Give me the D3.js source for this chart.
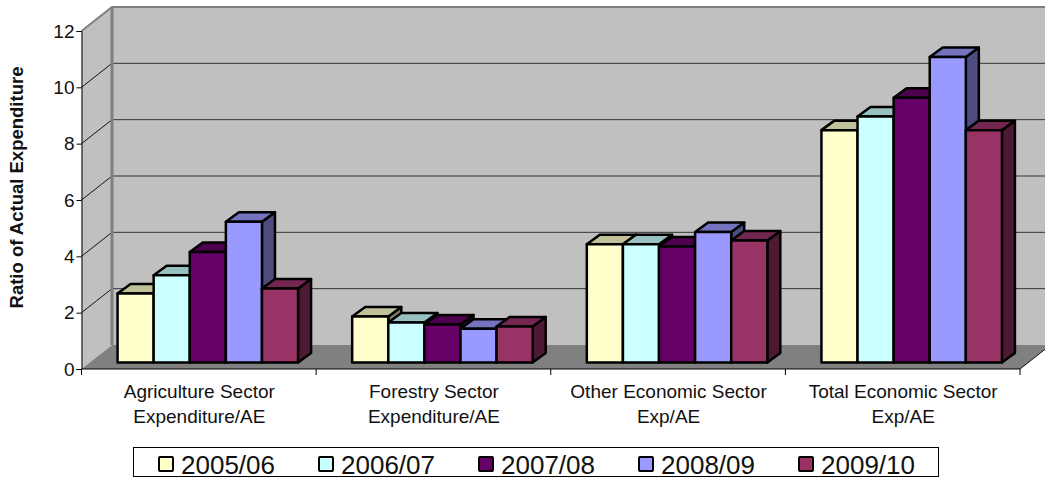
<!DOCTYPE html>
<html><head><meta charset="utf-8">
<script src="https://cdn.jsdelivr.net/npm/d3@7"></script>
<style>html,body{margin:0;padding:0;background:#fff;overflow:hidden}svg{display:block}text{font-family:"Liberation Sans",Arial,sans-serif;fill:#111}</style>
</head><body><svg id="c" width="1045" height="479"></svg>
<script>
const categories=[["Agriculture Sector","Expenditure/AE"],["Forestry Sector","Expenditure/AE"],["Other Economic Sector","Exp/AE"],["Total Economic Sector","Exp/AE"]];
const years=["2005/06","2006/07","2007/08","2008/09","2009/10"];
const colors=["#FFFFCC","#CCFFFF","#660066","#9999FF","#993366"];
const topColors=["#C0C099","#99C0C0","#4D004D","#7373BF","#732650"];
const sideColors=["#80806A","#668080","#330033","#4D4D80","#4D1A33"];
const v2005=[2.45,1.63,4.2,8.25];
const v2006=[3.1,1.42,4.2,8.73];
const v2007=[3.92,1.35,4.12,9.4];
const v2008=[5.0,1.2,4.63,10.85];
const v2009=[2.63,1.28,4.33,8.25];
const series=[v2005,v2006,v2007,v2008,v2009];
const yTicks=[0,2,4,6,8,10,12];

const svg=d3.select("#c");
const L=81.5,R=1020,Y0=369,Y12=31,DX=30.5,DY=-24;
const y=d3.scaleLinear().domain([0,12]).range([Y0,Y12]);
const x0=d3.scaleBand().domain(d3.range(4)).range([L,R]);
const barW=36.1,groupPad=(x0.bandwidth()-barW*5)/2;
const x1=d3.scaleBand().domain(d3.range(5)).range([0,barW*5]);
const bdx=9,bdy=-6.5,sdx=13,sdy=-9.5;
const poly=p=>p.map(a=>a.join(",")).join(" ");

// walls and floor
svg.append("polygon").attr("points",poly([[L+DX,y(12)+DY],[R+DX,y(12)+DY],[R+DX,y(0)+DY],[L+DX,y(0)+DY]])).attr("fill","#C0C0C0");
svg.append("polygon").attr("points",poly([[L,y(12)],[L+DX,y(12)+DY],[L+DX,y(0)+DY],[L,y(0)]])).attr("fill","#C0C0C0");
svg.append("polygon").attr("points",poly([[L,y(0)],[L+DX,y(0)+DY],[R+DX,y(0)+DY],[R,y(0)]])).attr("fill","#808080");
// grid
yTicks.filter(t=>t>0&&t<12).forEach(t=>{
  svg.append("line").attr("x1",L+DX).attr("x2",R+DX).attr("y1",y(t)+DY).attr("y2",y(t)+DY).attr("stroke","#333").attr("stroke-width",1);
  svg.append("line").attr("x1",L).attr("x2",L+DX).attr("y1",y(t)).attr("y2",y(t)+DY).attr("stroke","#111").attr("stroke-width",1);
});
svg.append("path").attr("d",`M${L},${y(12)}L${L+DX},${y(12)+DY}H${R+DX}`).attr("fill","none").attr("stroke","#808080").attr("stroke-width",2);
svg.append("line").attr("x1",L+DX).attr("x2",L+DX).attr("y1",y(12)+DY).attr("y2",y(0)+DY).attr("stroke","#808080").attr("stroke-width",3);
svg.append("line").attr("x1",R).attr("x2",R+DX).attr("y1",y(0)).attr("y2",y(0)+DY).attr("stroke","#111").attr("stroke-width",1);

// bars
const g=svg.append("g").attr("stroke","#000").attr("stroke-width",2.5).attr("stroke-linejoin","round");
categories.forEach((c,ci)=>{
  series.forEach((s,si)=>{
    const xa=x0(ci)+groupPad+x1(si)+bdx, xb=xa+barW;
    const yb=y(0)+bdy, yt=y(s[ci])+bdy;
    g.append("polygon").attr("points",poly([[xb,yb],[xb+sdx,yb+sdy],[xb+sdx,yt+sdy],[xb,yt]])).attr("fill",sideColors[si]);
    g.append("polygon").attr("points",poly([[xa,yt],[xa+sdx,yt+sdy],[xb+sdx,yt+sdy],[xb,yt]])).attr("fill",topColors[si]);
    g.append("rect").attr("x",xa).attr("y",yt).attr("width",barW).attr("height",yb-yt).attr("fill",colors[si]);
  });
});

// axes
const yAxis=d3.axisLeft(y).tickValues(yTicks).tickSize(5).tickPadding(2);
const ya=svg.append("g").attr("transform",`translate(${L},0)`).call(yAxis);
ya.selectAll("text").attr("font-size",19);
ya.selectAll("path,line").attr("stroke","#000");
svg.append("line").attr("x1",L).attr("x2",R).attr("y1",y(0)).attr("y2",y(0)).attr("stroke","#000");
d3.range(5).forEach(i=>{
  const tx=L+i*x0.bandwidth();
  svg.append("line").attr("x1",tx).attr("x2",tx).attr("y1",y(0)).attr("y2",y(0)+6).attr("stroke","#000");
});
categories.forEach((c,ci)=>{
  const t=svg.append("text").attr("text-anchor","middle").attr("font-size",19);
  c.forEach((ln,li)=>t.append("tspan").attr("x",x0(ci)+x0.bandwidth()/2+0.5).attr("y",398+li*25).text(ln));
});
svg.append("text").attr("transform","translate(23,187.5) rotate(-90)").attr("text-anchor","middle").attr("font-size",18.5).attr("font-weight","bold").text("Ratio of Actual Expenditure");

// legend
svg.append("rect").attr("x",133.5).attr("y",447.5).attr("width",805).attr("height",29).attr("fill","#fff").attr("stroke","#000");
const lx=d3.scalePoint().domain(years).range([158,798]);
years.forEach((yr,i)=>{
  svg.append("rect").attr("x",lx(yr)+1).attr("y",457).attr("width",14).attr("height",14).attr("fill",colors[i]).attr("stroke","#000").attr("stroke-width",2).attr("rx",1);
  svg.append("text").attr("x",lx(yr)+23).attr("y",473.5).attr("font-size",25).attr("textLength",94).attr("lengthAdjust","spacingAndGlyphs").text(yr);
});
</script></body></html>
